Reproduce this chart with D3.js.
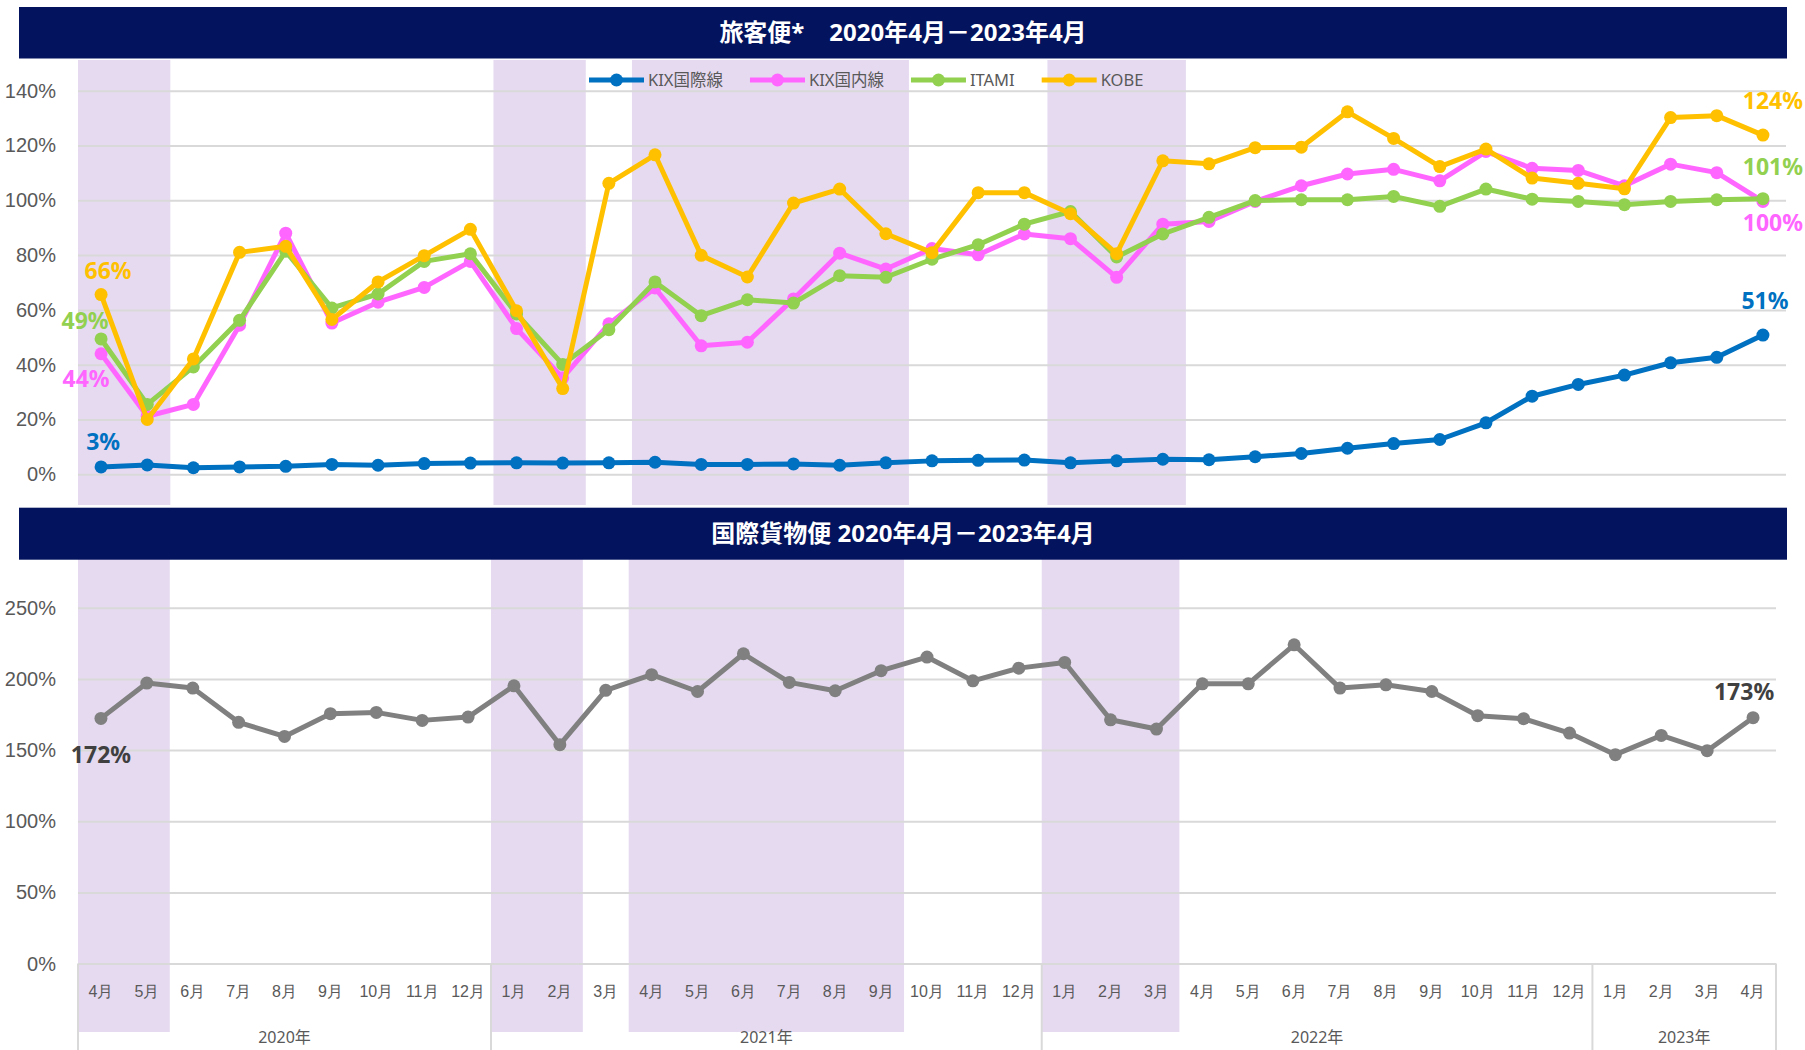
<!DOCTYPE html>
<html>
<head>
<meta charset="utf-8">
<script src="https://cdn.jsdelivr.net/npm/d3@7"></script>
<style>
  body { margin: 0; background: #fff; }
  svg { display: block; font-family: 'Noto Sans', 'Noto Sans CJK JP', sans-serif; }
</style>
</head>
<body>
<svg id="chart" width="1805" height="1050"></svg>
<script>
// month categories, Apr 2020 - Apr 2023
const months = ['4月','5月','6月','7月','8月','9月','10月','11月','12月',
  '1月','2月','3月','4月','5月','6月','7月','8月','9月','10月','11月','12月',
  '1月','2月','3月','4月','5月','6月','7月','8月','9月','10月','11月','12月',
  '1月','2月','3月','4月'];
const yearLabels = ['2020年','2021年','2022年','2023年'];
const yearStarts = [0, 9, 21, 33];   // index of first month of each year

// passenger flights, % of 2019 level
const seriesNames = ['KIX国際線','KIX国内線','ITAMI','KOBE'];
const kixIntl = [2.7,3.4,2.4,2.7,2.9,3.6,3.3,3.9,4.1, 4.2,4.1,4.2,4.4,3.6,3.6,3.8,3.3,4.2,4.9,
  5.1,5.2,4.2,4.9,5.5,5.3,6.4,7.6,9.5, 11.2,12.7,18.8,28.5,32.8,36.2,40.7,42.7,50.8];
const kixDom = [44.0,21.2,25.5,54.4,88.0,55.2,62.8,68.2,77.7, 53.2,35.2,54.9,68.0,46.9,48.2,64.0,80.7,74.9,82.4,
  80.1,87.7,86.0,71.9,91.3,92.3,99.6,105.3,109.6, 111.3,107.1,117.8,111.7,110.9,105.3,113.2,110.1,99.6];
const itami = [49.4,25.5,39.2,56.2,81.4,60.7,65.8,77.7,80.5, 58.5,40.1,52.8,70.2,57.9,63.7,62.5,72.5,71.9,78.5,
  83.8,91.3,95.9,79.3,87.7,93.8,99.9,100.2,100.2, 101.4,97.8,104.1,100.4,99.6,98.4,99.6,100.2,100.6];
const kobe = [65.6,20.0,42.1,81.0,83.2,56.5,70.2,79.8,89.4, 59.7,31.3,106.2,116.6,79.9,72.0,99.0,104.1,87.8,80.9,
  102.8,102.8,95.1,80.5,114.4,113.3,119.2,119.4,132.3, 122.6,112.3,118.7,108.1,106.2,104.2,130.2,130.9,123.8];

// international cargo flights
const cargo = [172.3,197.1,193.6,169.5,159.6,175.6,176.5,170.9,173.2,
  195.2,153.8,192.0,203.0,191.2,217.7,197.6,191.7,205.8,215.4,198.7,207.6,
  211.6,171.3,164.8,196.6,196.6,224.0,193.6,195.9,191.2,174.2,172.1,162.0,
  146.8,160.3,149.6,172.8];

// shaded periods [first month index, index after last]
const shadeBands = [[0,2],[9,11],[12,18],[21,24]];

const paxTicks = [0,20,40,60,80,100,120,140];
const cargoTicks = [0,50,100,150,200,250];

const paxTitle = '旅客便*\u00a0\u00a0\u00a0 2020年4月－2023年4月';
const cargoTitle = '国際貨物便 2020年4月－2023年4月';

const colors = ['#0070C0','#FF66FF','#92D050','#FFC000'];
const navy = '#04135E';
const grid = '#D9D9D9';
const axisText = '#595959';
const shade = '#E6DAF1';

const svg = d3.select('#chart');
const paxSeries = [kixIntl, kixDom, itami, kobe];

// ---------- top: passenger ----------
const xTop = d3.scaleBand().domain(d3.range(months.length)).range([78, 1786]);
const yTop = d3.scaleLinear().domain([0, 150]).range([474.3, 63.3]);
const cxTop = i => xTop(i) + xTop.bandwidth() / 2;

svg.append('g').selectAll('rect').data(shadeBands).join('rect')
  .attr('x', d => xTop(d[0]))
  .attr('width', d => xTop.step() * (d[1] - d[0]))
  .attr('y', 60).attr('height', 445)
  .attr('fill', shade);

svg.append('rect').attr('x', 19).attr('y', 7).attr('width', 1768).attr('height', 51.5).attr('fill', navy);
svg.append('text').attr('x', 903).attr('y', 33).attr('dy', '0.35em')
  .attr('text-anchor', 'middle').attr('fill', '#fff')
  .style('font-size', '24px').style('font-weight', 'bold').text(paxTitle);

svg.append('g').attr('transform', 'translate(78,0)')
  .call(d3.axisLeft(yTop).tickValues(paxTicks).tickSize(-(1786 - 78)).tickFormat(''))
  .call(g => g.select('.domain').remove())
  .selectAll('line').attr('stroke', grid).attr('stroke-width', 2);

svg.append('g').attr('transform', 'translate(56,0)')
  .call(d3.axisLeft(yTop).tickValues(paxTicks).tickSize(0).tickPadding(0).tickFormat(d => d + '%'))
  .call(g => g.select('.domain').remove())
  .selectAll('text').attr('fill', axisText).style('font-size', '20px').style('font-family', null);

const lineTop = d3.line().x((d, i) => cxTop(i)).y(d => yTop(d));
paxSeries.forEach((s, k) => {
  const g = svg.append('g');
  g.append('path').datum(s).attr('d', lineTop).attr('fill', 'none')
    .attr('stroke', colors[k]).attr('stroke-width', 5).attr('stroke-linejoin', 'round');
  g.selectAll('circle').data(s).join('circle')
    .attr('cx', (d, i) => cxTop(i)).attr('cy', d => yTop(d)).attr('r', 6.5).attr('fill', colors[k]);
});

// first / last value labels
const firstOff = [[2,-25],[-15,25],[-16,-18],[7,-24]];
const lastOff = [[2,-34],[10,22],[10,-32],[10,-34]];
paxSeries.forEach((s, k) => {
  const n = s.length - 1;
  [[0, firstOff[k]], [n, lastOff[k]]].forEach(([i, off]) => {
    svg.append('text').attr('x', cxTop(i) + off[0]).attr('y', yTop(s[i]) + off[1]).attr('dy', '0.35em')
      .attr('text-anchor', 'middle').attr('fill', colors[k])
      .style('font-size', '23px').style('font-weight', 'bold')
      .text(Math.round(s[i]) + '%');
  });
});

// legend
let lx = 589;
const legend = svg.append('g').attr('transform', 'translate(0,80)');
seriesNames.forEach((name, k) => {
  legend.append('line').attr('x1', lx).attr('x2', lx + 55).attr('stroke', colors[k]).attr('stroke-width', 5);
  legend.append('circle').attr('cx', lx + 27.5).attr('r', 6.5).attr('fill', colors[k]);
  const t = legend.append('text').attr('x', lx + 59).attr('dy', '0.35em').attr('fill', axisText)
    .style('font-size', '16.5px').text(name);
  lx += 59 + t.node().getComputedTextLength() + 27;
});

// ---------- bottom: cargo ----------
const xBot = d3.scaleBand().domain(d3.range(months.length)).range([78, 1776]);
const yBot = d3.scaleLinear().domain([0, 250]).range([963.6, 607.8]);
const cxBot = i => xBot(i) + xBot.bandwidth() / 2;

svg.append('g').selectAll('rect').data(shadeBands).join('rect')
  .attr('x', d => xBot(d[0]))
  .attr('width', d => xBot.step() * (d[1] - d[0]))
  .attr('y', 559).attr('height', 473)
  .attr('fill', shade);

svg.append('rect').attr('x', 19).attr('y', 507.7).attr('width', 1768).attr('height', 52).attr('fill', navy);
svg.append('text').attr('x', 903).attr('y', 534).attr('dy', '0.35em')
  .attr('text-anchor', 'middle').attr('fill', '#fff')
  .style('font-size', '24px').style('font-weight', 'bold').text(cargoTitle);

svg.append('g').attr('transform', 'translate(78,0)')
  .call(d3.axisLeft(yBot).tickValues(cargoTicks).tickSize(-(1776 - 78)).tickFormat(''))
  .call(g => g.select('.domain').remove())
  .selectAll('line').attr('stroke', grid).attr('stroke-width', 2);

svg.append('g').attr('transform', 'translate(56,0)')
  .call(d3.axisLeft(yBot).tickValues(cargoTicks).tickSize(0).tickPadding(0).tickFormat(d => d + '%'))
  .call(g => g.select('.domain').remove())
  .selectAll('text').attr('fill', axisText).style('font-size', '20px').style('font-family', null);

// month axis
svg.append('g').attr('transform', 'translate(0,963.6)')
  .call(d3.axisBottom(xBot).tickSize(0).tickFormat(i => months[i]))
  .call(g => g.select('.domain').remove())
  .selectAll('text').attr('y', 28).attr('dy', '0.35em')
  .attr('fill', axisText).style('font-size', '16px').style('font-family', null);

// year dividers and labels
const yearEdges = yearStarts.map(i => xBot(i)).concat([xBot.range()[1]]);
svg.append('g').selectAll('line').data(yearEdges).join('line')
  .attr('x1', d => d).attr('x2', d => d).attr('y1', 963.6).attr('y2', 1050)
  .attr('stroke', grid).attr('stroke-width', 2);
svg.append('g').selectAll('text').data(yearLabels).join('text')
  .attr('x', (d, k) => (yearEdges[k] + yearEdges[k + 1]) / 2)
  .attr('y', 1037).attr('dy', '0.35em').attr('text-anchor', 'middle')
  .attr('fill', axisText).style('font-size', '16px').text(d => d);

const lineBot = d3.line().x((d, i) => cxBot(i)).y(d => yBot(d));
svg.append('path').datum(cargo).attr('d', lineBot).attr('fill', 'none')
  .attr('stroke', '#808080').attr('stroke-width', 5).attr('stroke-linejoin', 'round');
svg.append('g').selectAll('circle').data(cargo).join('circle')
  .attr('cx', (d, i) => cxBot(i)).attr('cy', d => yBot(d)).attr('r', 6.5).attr('fill', '#808080');

const nC = cargo.length - 1;
[[0, [0, 37]], [nC, [-9, -26]]].forEach(([i, off]) => {
  svg.append('text').attr('x', cxBot(i) + off[0]).attr('y', yBot(cargo[i]) + off[1]).attr('dy', '0.35em')
    .attr('text-anchor', 'middle').attr('fill', '#404040')
    .style('font-size', '23px').style('font-weight', 'bold')
    .text(Math.round(cargo[i]) + '%');
});
</script>
</body>
</html>
